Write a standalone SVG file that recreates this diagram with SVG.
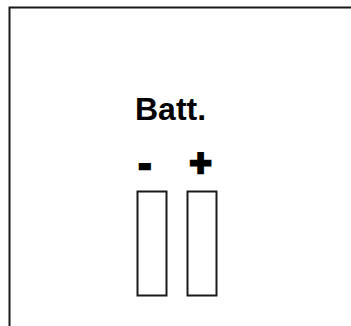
<svg xmlns="http://www.w3.org/2000/svg" width="351" height="326" viewBox="0 0 351 326">
<style>
.t{font-family:"Liberation Sans",Arial,sans-serif;font-weight:bold;fill:#000}
.sign{font-size:38px;stroke:#000;stroke-width:2.5;stroke-linejoin:miter}
.cell{fill:#fff;stroke:#1a1a1a;stroke-width:2}
</style>
<rect width="351" height="326" fill="#fff"/>
<g id="frame"><path d="M9.5,330 V7.5 H360" fill="none" stroke="#1a1a1a" stroke-width="2"/></g>
<g id="battery">
<text class="t" x="135" y="120" font-size="32">Batt.</text>
<text class="t sign" x="138.5" y="176.7">-</text>
<text class="t sign" x="189.4" y="175.6">+</text>
<rect class="cell" x="137.5" y="191.5" width="29" height="104"/>
<rect class="cell" x="187.5" y="191.5" width="29" height="104"/>
</g>
<g id="connectors"/>
</svg>
